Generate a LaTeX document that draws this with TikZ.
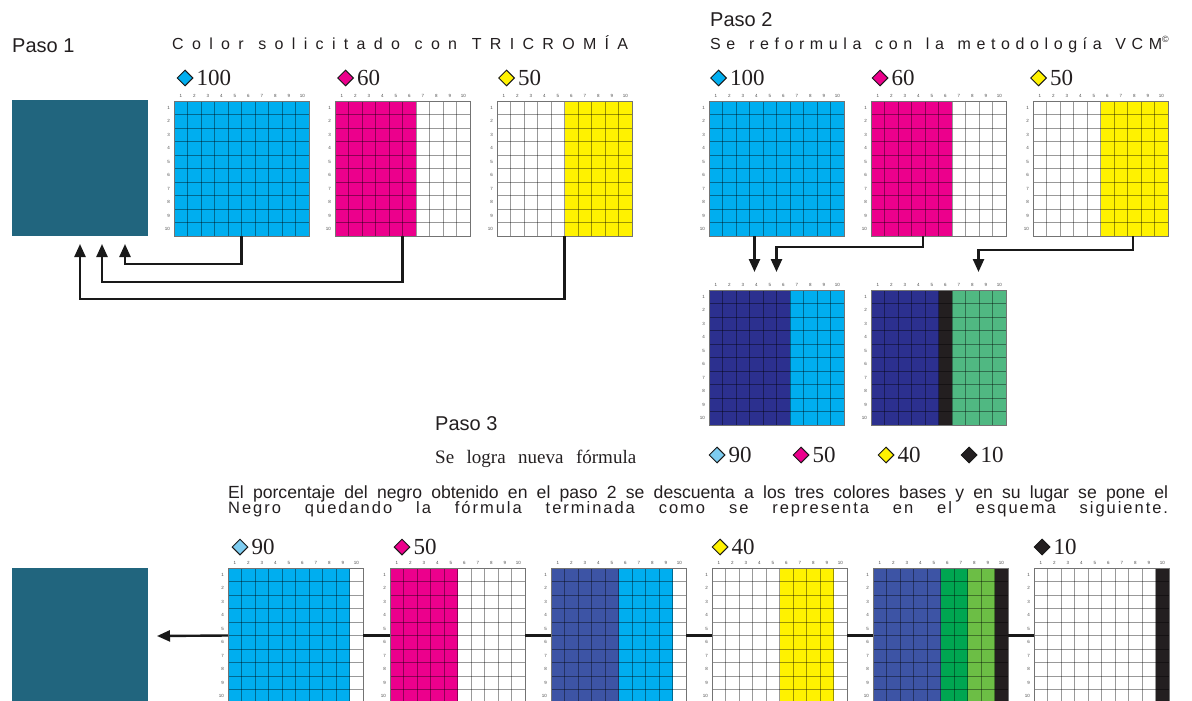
\documentclass[tikz,border=0pt]{standalone}
\usepackage{fontspec}
\setmainfont{Liberation Serif}
\setsansfont{Liberation Sans}
\newfontfamily\hsans{Liberation Sans}
\newfontfamily\lsA[LetterSpace=35]{Liberation Sans}
\newfontfamily\lsC[LetterSpace=52]{Liberation Sans}
\newfontfamily\lsB[LetterSpace=12]{Liberation Sans}
\usetikzlibrary{arrows.meta,shapes.geometric}

\definecolor{teal1}{RGB}{33,101,126}
\definecolor{cy}{RGB}{0,174,239}
\definecolor{mg}{RGB}{236,0,140}
\definecolor{ye}{RGB}{255,242,0}
\definecolor{navy}{RGB}{44,48,143}
\definecolor{blu}{RGB}{61,84,165}
\definecolor{sgreen}{RGB}{80,184,130}
\definecolor{dgreen}{RGB}{0,166,81}
\definecolor{lgreen}{RGB}{108,190,69}
\definecolor{blk}{RGB}{35,31,32}
\definecolor{lcy}{RGB}{125,204,240}
\definecolor{txt}{RGB}{35,31,32}

\newcommand\cgrid[4]{%
  \node[gridbox] (#1) at ({#2+67.5},{#3+67.5}) {};
  \foreach \ga/\gb/\gc in {#4} {\fill[\gc] ({#2+13.5*(\ga-1)},#3) rectangle ({#2+13.5*\gb},{#3+135});}
  \foreach \gi in {1,...,9} {\draw[gline] ({#2+13.5*\gi},#3) -- ++(0,135); \draw[gline] (#2,{#3+13.5*\gi}) -- ++(135,0);}
  \draw[gframe] (#2,#3) rectangle ++(135,135);
  \foreach \gi in {1,...,10} {\node[tiny] at ({#2+13.5*\gi-6.75},{#3-5}) {\gi}; \node[tiny,anchor=east] at ({#2-4},{#3+13.5*\gi-6.75}) {\gi};}
}
\newcommand\lbl[5]{%
  \node[swatch, fill=#4] (#1) at (#2,#3) {};
  \node[num] (#1n) at ([xshift=3pt]#1.east) {#5};
}

\begin{document}
\begin{tikzpicture}[x=1pt,y=-1pt,
  gridbox/.style={fill=white, minimum width=135pt, minimum height=135pt, inner sep=0pt, outer sep=0pt},
  gline/.style={black, opacity=0.4, line width=0.5pt},
  gframe/.style={draw=black!55, line width=0.6pt},
  tiny/.style={font=\hsans\fontsize{4.5}{5}\selectfont, text=black!70, inner sep=0pt},
  conn/.style={line width=2.4pt, draw=black!90, -{Triangle[length=13pt,width=11pt]}},
  link/.style={line width=2.4pt, draw=black!90},
  swatch/.style={diamond, draw=black!90, line width=1pt, minimum width=16pt, minimum height=16pt, inner sep=0pt, aspect=1},
  num/.style={font=\fontsize{23}{23}\selectfont, inner sep=0pt, anchor=west, text=txt},
  head/.style={anchor=base west, inner sep=0pt, text=txt, font=\hsans\fontsize{20}{20}\selectfont},
  teal/.style={fill=teal1, minimum width=136pt, minimum height=136pt, inner sep=0pt, outer sep=0pt}]
\fill[white] (0,0) rectangle (1192,701);
\useasboundingbox (0,0) rectangle (1192,701);

% headings
\node[head] (p1) at (12,53) {Paso 1};
\node[head, font=\lsC\fontsize{16}{16}\selectfont] (t1) at (172,50) {\makebox[456pt][s]{Color solicitado con TRICROMÍA}};
\node[head] (p2) at (710,27) {Paso 2};
\node[head, font=\lsA\fontsize{16}{16}\selectfont] (t2) at (710,50) {\makebox[452pt][s]{Se reformula con la metodología VCM}\raisebox{7pt}{\hsans\fontsize{9}{9}\selectfont ©}};
\node[head] (p3) at (435,430) {Paso 3};
\node[head, font=\fontsize{19}{19}\selectfont] (t3) at (435,463) {\makebox[201pt][s]{Se logra nueva fórmula}};
\node[head, font=\hsans\fontsize{17.6}{17.6}\selectfont] (t4) at (228,498) {\makebox[940pt][s]{El porcentaje del negro obtenido en el paso 2 se descuenta a los tres colores bases y en su lugar se pone el}};
\node[head, font=\lsB\fontsize{16.5}{16.5}\selectfont] (t5) at (228,513) {\makebox[940pt][s]{Negro quedando la fórmula terminada como se representa en el esquema siguiente.}};

% teal squares
\node[teal] (T) at (80,168) {};
\node[teal] (E) at (80,636) {};

% Paso 1
\lbl{l1}{185}{78}{cy}{100}
\lbl{l2}{345.5}{78}{mg}{60}
\lbl{l3}{506.5}{78}{ye}{50}
\cgrid{A1}{174}{101}{1/10/cy}
\cgrid{A2}{335}{101}{1/6/mg}
\cgrid{A3}{497}{101}{6/10/ye}
\draw[conn] (A1.south) -- ++(0,28) -| ([xshift=45pt,yshift=-8pt]T.south);
\draw[conn] (A2.south) -- ++(0,46) -| ([xshift=22pt,yshift=-8pt]T.south);
\draw[conn] (A3.south) -- ++(0,63) -| ([yshift=-8pt]T.south);

% Paso 2
\lbl{m1}{718.5}{78}{cy}{100}
\lbl{m2}{880}{78}{mg}{60}
\lbl{m3}{1038.5}{78}{ye}{50}
\cgrid{B1}{709}{101}{1/10/cy}
\cgrid{B2}{871}{101}{1/6/mg}
\cgrid{B3}{1033}{101}{6/10/ye}
\cgrid{C1}{709}{290}{1/6/navy,7/10/cy}
\cgrid{C2}{871}{290}{1/5/navy,6/6/blk,7/10/sgreen}
\draw[conn] ([xshift=-22pt]B1.south) -- ([xshift=-22pt,yshift=18pt]C1.north);
\draw[conn] ([xshift=-15.5pt]B2.south) -- ++(0,11) -| ([yshift=18pt]C1.north);
\draw[conn] ([xshift=32.5pt]B3.south) -- ++(0,14) -| ([xshift=40pt,yshift=18pt]C2.north);

% Paso 3 result labels
\lbl{r1}{717}{455}{lcy}{90}
\lbl{r2}{801}{455}{mg}{50}
\lbl{r3}{886}{455}{ye}{40}
\lbl{r4}{969}{455}{blk}{10}

% bottom row
\lbl{b1}{240}{547}{lcy}{90}
\lbl{b2}{402}{547}{mg}{50}
\lbl{b3}{720}{547}{ye}{40}
\lbl{b4}{1042}{547}{blk}{10}
\cgrid{D1}{228}{568}{1/9/cy}
\cgrid{D2}{390}{568}{1/5/mg}
\cgrid{D3}{551}{568}{1/5/blu,6/9/cy}
\cgrid{D4}{712}{568}{6/9/ye}
\cgrid{D5}{873}{568}{1/5/blu,6/7/dgreen,8/9/lgreen,10/10/blk}
\cgrid{D6}{1034}{568}{10/10/blk}
\draw[link] (D6.west) -- (D5.east);
\draw[link] (D5.west) -- (D4.east);
\draw[link] (D4.west) -- (D3.east);
\draw[link] (D3.west) -- (D2.east);
\draw[link] (D2.west) -- (D1.east);
\draw[conn] (D1.west) -- ([xshift=9pt]E.east);
\end{tikzpicture}
\end{document}
